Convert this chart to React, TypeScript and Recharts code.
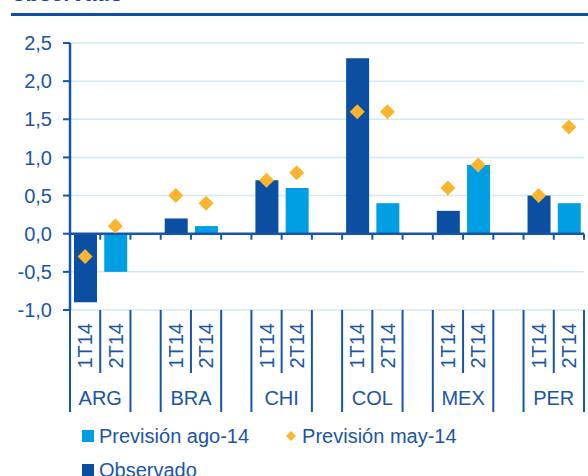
import React from 'react';
import { ComposedChart, Bar, Line, XAxis, YAxis, CartesianGrid, ReferenceLine } from 'recharts';

// Quarterly growth by country: observed vs. forecasts
const countries = ['ARG', 'BRA', 'CHI', 'COL', 'MEX', 'PER'];
const periods = ['1T14', '2T14'];
const observado = [-0.9, 0.2, 0.7, 2.3, 0.3, 0.5];       // 1T14
const previsionAgo = [-0.5, 0.1, 0.6, 0.4, 0.9, 0.4];    // 2T14
const previsionMay1T = [-0.3, 0.5, 0.7, 1.6, 0.6, 0.5];
const previsionMay2T = [0.1, 0.4, 0.8, 1.6, 0.9, 1.4];
const yTicks = [-1, -0.5, 0, 0.5, 1, 1.5, 2, 2.5];

const BLUE_DARK = '#0b4fa3';
const BLUE_LIGHT = '#009fe3';
const ORANGE = '#fbb42e';
const AXIS = '#1655a8';
const TEXT = '#1a55a6';
const GRID = '#cfe9f6';
const FONT = '"Liberation Sans", Arial, sans-serif';

const W = 588;
const H = 476;
const LEFT = 70;
const RIGHT = 4;
const TOP = 43;
const XAXIS_H = 166;

// one slot per quarter plus an empty slot between countries
type Row = { id: string; country: string; period: string; obs: number | null; ago: number | null; may: number | null };
const data: Row[] = [];
countries.forEach((c, i) => {
  if (i > 0) data.push({ id: `gap${i}`, country: '', period: '', obs: null, ago: null, may: null });
  data.push({ id: `${c}-${periods[0]}`, country: c, period: periods[0], obs: observado[i], ago: null, may: previsionMay1T[i] });
  data.push({ id: `${c}-${periods[1]}`, country: c, period: periods[1], obs: null, ago: previsionAgo[i], may: previsionMay2T[i] });
});

const SLOT = (W - LEFT - RIGHT) / data.length;

const fmt = (v: number) => v.toFixed(1).replace('.', ',');

const Diamond = ({ cx, cy }: any) => {
  if (cx == null || cy == null) return null;
  const r = 7.5;
  return <path d={`M${cx},${cy - r}L${cx + r},${cy}L${cx},${cy + r}L${cx - r},${cy}Z`} fill={ORANGE} />;
};

// zero line with tick marks on every slot boundary
const ZeroLine = (props: any) => {
  const { x1, y1, x2, y2 } = props;
  const n = data.length;
  const step = (x2 - x1) / n;
  const marks = [];
  for (let i = 0; i <= n; i++) {
    const x = x1 + i * step;
    marks.push(<line key={i} x1={x} y1={y1} x2={x} y2={y1 + 6} stroke={AXIS} strokeWidth={2} />);
  }
  return (
    <g>
      <line x1={x1} y1={y1} x2={x2} y2={y2} stroke={AXIS} strokeWidth={2.5} />
      {marks}
    </g>
  );
};

// two-level category axis: quarter (rotated) and country
const CategoryTick = ({ x, y, payload }: any) => {
  const row = data.find(d => d.id === payload.value);
  if (!row || !row.period) return null;
  const half = SLOT / 2;
  const first = row.period === periods[0];
  return (
    <g>
      <text
        transform={`translate(${x},${y + 13}) rotate(-90)`}
        textAnchor="end"
        dy="0.36em"
        fill={TEXT}
        fontSize={20}
        fontFamily={FONT}
      >
        {row.period}
      </text>
      {first ? (
        <>
          <line x1={x - half} y1={y} x2={x - half} y2={y + 102} stroke={AXIS} strokeWidth={2} />
          <line x1={x + half} y1={y} x2={x + half} y2={y + 63} stroke={AXIS} strokeWidth={2} />
          <text x={x + half} y={y + 95} textAnchor="middle" fill={TEXT} fontSize={20} fontFamily={FONT}>
            {row.country}
          </text>
        </>
      ) : (
        <line x1={x + half} y1={y} x2={x + half} y2={y + 102} stroke={AXIS} strokeWidth={2} />
      )}
    </g>
  );
};

const legendItem = (marker: React.ReactNode, label: string, gap: number) => (
  <span style={{ display: 'inline-flex', alignItems: 'center', marginRight: gap }}>
    {marker}
    <span style={{ marginLeft: 5 }}>{label}</span>
  </span>
);

const square = (color: string) => (
  <span style={{ display: 'inline-block', width: 12, height: 12, background: color }} />
);

const diamondIcon = (
  <svg width={12} height={12}>
    <path d="M6,1L11,6L6,11L1,6Z" fill={ORANGE} />
  </svg>
);

export default function App() {
  return (
    <div style={{ position: 'absolute', top: 0, left: 0, width: W, height: H, overflow: 'hidden', background: '#fff', fontFamily: FONT }}>
      <div style={{ position: 'absolute', left: 12, top: -19, fontSize: 22, fontWeight: 'bold', color: '#134a96', lineHeight: '25px' }}>observado</div>
      <div style={{ position: 'absolute', left: 11, top: 13, width: W - 11, height: 2.5, background: BLUE_DARK }} />

      <div style={{ position: 'absolute', top: 0, left: 0 }}>
        <ComposedChart width={W} height={H} data={data} margin={{ top: TOP, right: RIGHT, bottom: 0, left: 0 }}>
          <CartesianGrid horizontal vertical={false} stroke={GRID} strokeWidth={1.5} />
          <XAxis
            dataKey="id"
            height={XAXIS_H}
            interval={0}
            axisLine={false}
            tickLine={false}
            tickSize={0}
            tickMargin={0}
            tick={<CategoryTick />}
          />
          <YAxis
            width={LEFT}
            domain={[-1, 2.5]}
            ticks={yTicks}
            tickFormatter={fmt}
            axisLine={{ stroke: AXIS, strokeWidth: 2.5 }}
            tickLine={{ stroke: AXIS, strokeWidth: 2 }}
            tickSize={7}
            tickMargin={11}
            tick={{ fill: TEXT, fontSize: 20, fontFamily: FONT }}
          />
          <Bar dataKey="obs" name="Observado" stackId="q" fill={BLUE_DARK} barSize={23} isAnimationActive={false} />
          <Bar dataKey="ago" name="Previsión ago-14" stackId="q" fill={BLUE_LIGHT} barSize={23} isAnimationActive={false} />
          <ReferenceLine y={0} shape={ZeroLine} />
          <Line
            dataKey="may"
            name="Previsión may-14"
            stroke="none"
            dot={<Diamond />}
            activeDot={false}
            legendType="diamond"
            isAnimationActive={false}
          />
        </ComposedChart>
      </div>

      <div style={{ position: 'absolute', left: 82, top: 423, fontSize: 20, color: TEXT, lineHeight: '26px' }}>
        <div style={{ display: 'flex' }}>
          {legendItem(square(BLUE_LIGHT), 'Previsión ago-14', 36)}
          {legendItem(diamondIcon, 'Previsión may-14', 0)}
        </div>
        <div style={{ display: 'flex', marginTop: 8 }}>
          {legendItem(square(BLUE_DARK), 'Observado', 0)}
        </div>
      </div>
    </div>
  );
}
